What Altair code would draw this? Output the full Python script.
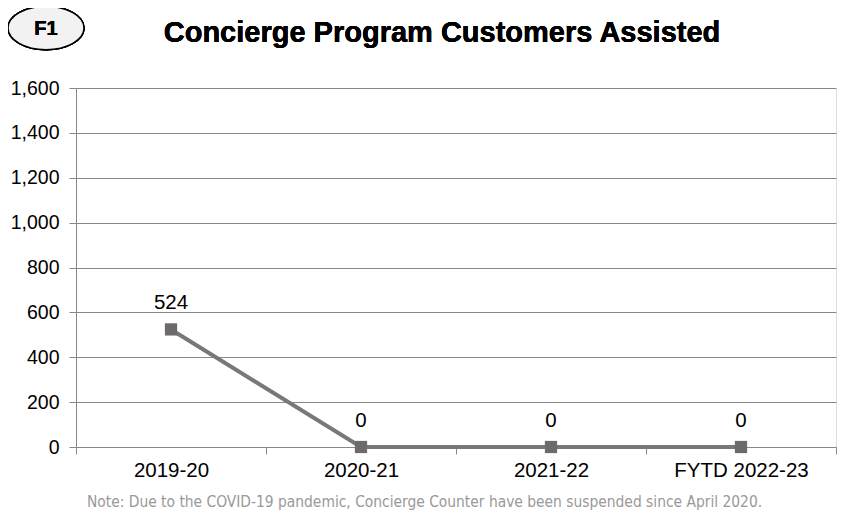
import altair as alt
import pandas as pd

years = ["2019-20", "2020-21", "2021-22", "FYTD 2022-23"]
customers = [524, 0, 0, 0]

df = pd.DataFrame({"year": years, "customers": customers})

FONT = "Liberation Sans"
GRAY = "#787878"
NOTE = "Note: Due to the COVID-19 pandemic, Concierge Counter have been suspended since April 2020."
TITLE = "Concierge Program Customers Assisted"

x_enc = alt.X(
    "year:N",
    sort=years,
    scale=alt.Scale(type="band", paddingInner=0, paddingOuter=0),
    axis=alt.Axis(
        title=NOTE,
        titleFont="Liberation Sans Narrow, DejaVu Sans Condensed, Liberation Sans",
        titleFontSize=15.4,
        titleFontWeight="normal",
        titleColor="#999999",
        titlePadding=14,
        titleX=348,
        labelAngle=0,
        labelFont=FONT,
        labelFontSize=20.5,
        labelColor="#000000",
        labelPadding=6,
        tickBand="extent",
        tickSize=7,
        tickColor="#888888",
        domainColor="#888888",
        grid=False,
    ),
)
y_enc = alt.Y(
    "customers:Q",
    scale=alt.Scale(domain=[0, 1600]),
    axis=alt.Axis(
        title=None,
        values=list(range(0, 1601, 200)),
        format=",.0f",
        labelFont=FONT,
        labelFontSize=19.5,
        labelColor="#000000",
        labelPadding=10,
        tickSize=7,
        tickColor="#888888",
        domainColor="#888888",
        gridColor="#888888",
        gridWidth=1,
    ),
)

base = alt.Chart(df).encode(x=x_enc, y=y_enc)

line = base.mark_line(color=GRAY, strokeWidth=4)
points = base.mark_point(shape="square", filled=True, size=150, color="#6e6a6a", opacity=1)
labels = base.mark_text(dy=-26, font=FONT, fontSize=20.5, color="#000000").encode(
    text=alt.Text("customers:Q", format=",.0f")
)

badge = alt.Chart(df).mark_point(
    shape="M-1,0 A1,0.57 0 1,1 1,0 A1,0.57 0 1,1 -1,0 Z",
    filled=False,
    fill="#f2f2f2",
    fillOpacity=1,
    stroke="#000000",
    strokeWidth=1.5,
    size=5776,
    opacity=1,
).encode(x=alt.value(-30), y=alt.value(-60))
badge_text = alt.Chart(df).mark_text(
    text="F1", font=FONT, fontSize=20, fontWeight="bold", color="#000000"
).encode(x=alt.value(-30), y=alt.value(-59))

title_text = alt.Chart(df).mark_text(
    text=TITLE, font=FONT, fontSize=29, fontWeight="bold", color="#000000",
    baseline="alphabetic", align="center",
).encode(x=alt.value(366), y=alt.value(-46))

chart = alt.layer(line, points, labels, badge, badge_text, title_text).properties(
    width=760,
    height=359,
    autosize=alt.AutoSizeParams(type="none"),
    padding={"left": 68, "top": 80, "right": 16, "bottom": 77},
).configure_view(stroke=None).configure(background="#ffffff")

chart.save("out.html", embed_options={"renderer": "svg", "actions": False})
